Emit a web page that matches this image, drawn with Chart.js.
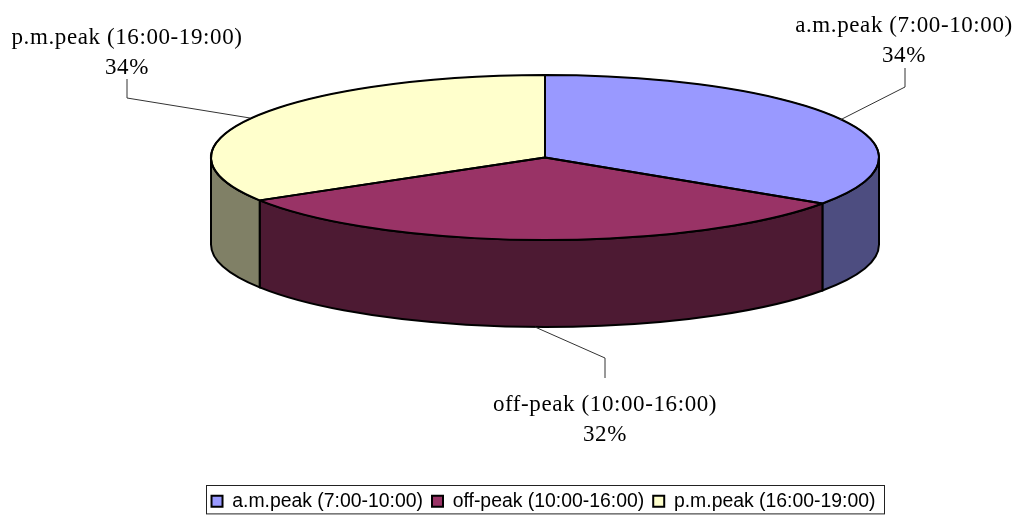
<!DOCTYPE html>
<html>
<head>
<meta charset="utf-8">
<title>Peak periods</title>
<script src="https://cdn.jsdelivr.net/npm/chart.js@4"></script>
<style>
  html, body { margin: 0; padding: 0; background: #fff; }
  #wrap { width: 1021px; height: 517px; }
</style>
</head>
<body>
<div id="wrap"><canvas id="chart"></canvas></div>
<script>
const categories = ['a.m.peak (7:00-10:00)', 'off-peak (10:00-16:00)', 'p.m.peak (16:00-19:00)'];
const shares = [34.4, 31.9, 33.7];
const topColors = ['#9999FF', '#993366', '#FFFFCC'];
const sideColors = ['#4D4D80', '#4D1A33', '#808066'];

// pie geometry on the page
const CX = 545, CY = 157.5, RX = 334, RY = 82.5, DEPTH = 87;

// label centre, first baseline, then the leader line from label to pie
const callouts = [
  { x: 904, y: 26, line: [[905, 68], [905, 87], [840, 120]] },
  { x: 605, y: 405, line: [[605, 378], [605, 358], [535, 327]] },
  { x: 127, y: 38, line: [[127, 79], [127, 98], [250, 118]] }
];

// squashes the flat pie into an ellipse and adds the rim below it
const pie3d = {
  id: 'pie3d',
  beforeDatasetsDraw(chart) {
    const ctx = chart.ctx;
    const arcs = chart.getDatasetMeta(0).data;
    ctx.save();
    ctx.lineWidth = 2;
    ctx.strokeStyle = '#000';
    arcs.forEach((arc, i) => {
      const a = Math.max(arc.startAngle, 0);
      const b = Math.min(arc.endAngle, Math.PI);
      if (a >= b) return;
      ctx.beginPath();
      ctx.ellipse(CX, CY, RX, RY, 0, a, b);
      ctx.ellipse(CX, CY + DEPTH, RX, RY, 0, b, a, true);
      ctx.closePath();
      ctx.fillStyle = sideColors[i];
      ctx.fill();
      ctx.stroke();
    });
    ctx.restore();

    const first = arcs[0];
    ctx.save();
    ctx.translate(CX, CY);
    ctx.scale(1, RY / RX);
    ctx.translate(-first.x, -first.y);
  },
  afterDatasetsDraw(chart) {
    const ctx = chart.ctx;
    ctx.restore();
    // outlines again without the squash, so the line keeps its width
    ctx.save();
    ctx.lineWidth = 2;
    ctx.strokeStyle = '#000';
    ctx.lineJoin = 'round';
    chart.getDatasetMeta(0).data.forEach(arc => {
      ctx.beginPath();
      ctx.moveTo(CX, CY);
      ctx.ellipse(CX, CY, RX, RY, 0, arc.startAngle, arc.endAngle);
      ctx.closePath();
      ctx.stroke();
    });
    ctx.restore();
  },
  afterDraw(chart) {
    const ctx = chart.ctx;
    ctx.save();
    ctx.strokeStyle = '#333';
    ctx.lineWidth = 1;
    callouts.forEach(c => {
      ctx.beginPath();
      c.line.forEach((p, i) => i ? ctx.lineTo(p[0], p[1]) : ctx.moveTo(p[0], p[1]));
      ctx.stroke();
    });
    ctx.fillStyle = '#000';
    ctx.font = '23px "Liberation Serif"';
    ctx.letterSpacing = '0.6px';
    ctx.textAlign = 'center';
    callouts.forEach((c, i) => {
      ctx.fillText(categories[i], c.x, c.y);
      ctx.fillText(Math.round(shares[i]) + '%', c.x, c.y + 30);
    });

    // legend frame
    ctx.strokeStyle = '#222';
    const hit = chart.legend.legendHitBoxes;
    const last = hit[hit.length - 1];
    const left = Math.round(hit[0].left - 6) + 0.5;
    const right = Math.round(last.left + last.width + 9) + 0.5;
    const top = Math.round(hit[0].top - 7) + 0.5;
    ctx.strokeRect(left, top, right - left, hit[0].height + 9);
    ctx.restore();
  }
};

new Chart(document.getElementById('chart'), {
  type: 'pie',
  plugins: [pie3d],
  data: {
    labels: categories,
    datasets: [{
      data: shares,
      backgroundColor: topColors,
      borderColor: '#000',
      borderWidth: 2,
      radius: RX,
      clip: false
    }]
  },
  options: {
    responsive: true,
    maintainAspectRatio: false,
    animation: false,
    layout: { padding: { left: 66, bottom: -4 } },
    plugins: {
      tooltip: { enabled: false },
      legend: {
        position: 'bottom',
        labels: {
          boxWidth: 11,
          boxHeight: 11,
          padding: 9,
          color: '#000',
          font: { family: '"Liberation Sans"', size: 19.4 }
        }
      }
    }
  }
});
</script>
</body>
</html>
